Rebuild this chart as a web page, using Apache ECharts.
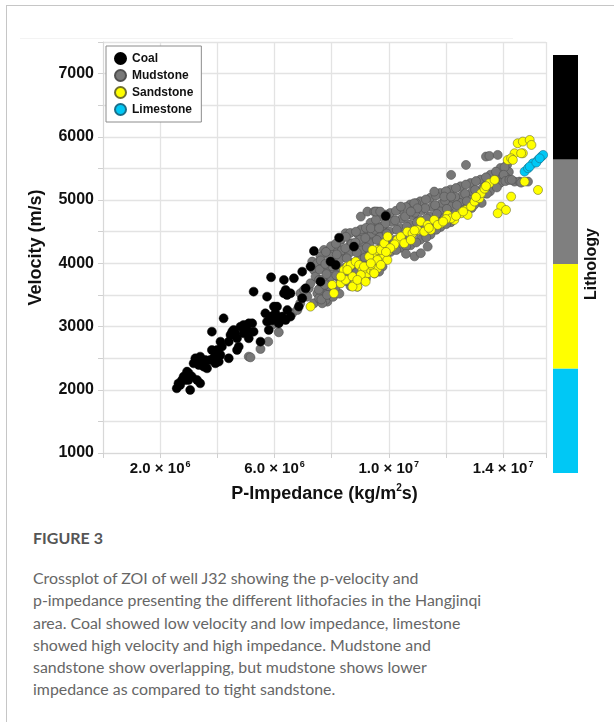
<!DOCTYPE html>
<html>
<head>
<meta charset="utf-8">
<script src="https://cdn.jsdelivr.net/npm/echarts@6/dist/echarts.min.js"></script>
<style>
html,body{margin:0;padding:0;background:#fff;}
#wrap{position:relative;width:614px;height:722px;overflow:hidden;background:#fff;}
#frame{position:absolute;left:6px;top:5px;right:0;bottom:0;border-left:1px solid #c6c6c6;border-top:1px solid #c6c6c6;}
#faint{position:absolute;left:20px;top:38px;width:493px;height:0;border-top:1px solid #f3f3f3;}
#chart{position:absolute;left:0;top:0;width:614px;height:512px;}
#figt{position:absolute;left:33px;top:527px;font-family:Lato,'Open Sans',sans-serif;font-weight:700;font-size:16px;line-height:22px;color:#555;white-space:nowrap;}
#cap{position:absolute;left:33px;top:567px;font-family:Lato,'Open Sans',sans-serif;font-size:15.9px;line-height:22.3px;color:#666;white-space:nowrap;}
</style>
</head>
<body>
<div id="wrap">
<div id="frame"></div>
<div id="faint"></div>
<div id="chart"></div>
<div id="figt">FIGURE 3</div>
<div id="cap">Crossplot of ZOI of well J32 showing the p-velocity and<br>p-impedance presenting the different lithofacies in the Hangjinqi<br>area. Coal showed low velocity and low impedance, limestone<br>showed high velocity and high impedance. Mudstone and<br>sandstone show overlapping, but mudstone shows lower<br>impedance as compared to tight sandstone.</div>
</div>
<script>
// Impedance in units of 10^6 kg/m2s, velocity in m/s
var seriesNames = ['Coal', 'Mudstone', 'Sandstone', 'Limestone'];
var xTickValues = [2, 6, 10, 14];
var xTickBase = ['2.0 × 10', '6.0 × 10', '1.0 × 10', '1.4 × 10'];
var xTickExp = ['6', '6', '7', '7'];
var yTickLabels = [1000, 2000, 3000, 4000, 5000, 6000, 7000];
var colorbarLabels = ['Limestone', 'Sandstone', 'Mudstone', 'Coal'];

var coal = [
[2.58,2023],[2.70,2076],[2.99,2155],[3.05,1997],[2.94,2287],[3.11,2208],[3.29,2155],[3.40,2102],
[3.17,2418],[3.29,2471],[3.40,2524],[3.52,2366],[3.64,2339],[3.75,2471],[3.87,2498],[3.93,2418],
[4.05,2445],[4.11,2550],[3.81,2629],[4.11,2761],[3.81,2919],[4.22,3130],[4.40,2761],[4.46,2867],
[4.57,2946],[4.63,2893],[4.69,2814],[4.81,2998],[4.92,3025],[5.10,3051],[5.27,2919],[5.10,2814],
[4.69,2629],[4.75,2682],[4.40,2498],[5.27,3552],[5.74,3473],[5.68,3209],[5.74,3078],[5.80,2946],
[5.86,3157],[5.98,3315],[6.09,3157],[6.27,3157],[6.39,3579],[6.44,3499],[6.56,3526],[5.51,2761],
[7.38,4195],[8.26,4406],[8.78,4264],[7.96,4027],[8.14,3974],[7.26,3948],[6.97,3868],[6.68,3763],
[6.33,3737],[5.88,3779],[6.33,3526],[7.09,3605],[6.97,3447],[6.85,3315],[6.09,3315],[6.21,3130],
[6.39,3104],[6.56,3157],[7.61,3710],[9.89,4749],[2.82,2208],[2.88,2155],[3.23,2497],[3.35,2392],
[3.46,2445],[3.58,2471],[3.93,2550],[3.99,2629],[4.16,2682],[4.52,2919],[4.92,2893],[5.04,2946],
[5.22,3051],[5.92,3100],[6.03,3210],[6.45,3260],[6.15,3050],[2.64,2100],[2.76,2150],[3.00,2260]
];

var mudstone = [
[5.10,2524],[5.16,2513],[5.51,2645],[5.78,2761],[6.15,2909],[5.95,3035],[6.62,3209],[6.80,3262],
[6.90,3368],[6.97,3473],[7.09,3526],[7.20,3605],[7.26,3684],[6.91,3526],[7.15,3473],[7.38,3368],
[7.61,3420],[7.85,3394],[7.03,3578],[7.50,3526],[7.32,4027],[7.38,3895],[7.44,3790],[7.56,3737],
[7.61,3605],[7.73,3526],[7.79,3420],[7.67,3368],[7.56,3447],[7.85,3684],[7.96,3790],[8.08,3895],
[8.20,3948],[8.32,4106],[8.43,4211],[8.49,4475],[8.90,4475],[9.13,4528],[9.02,4739],[9.25,4818],
[9.49,4818],[9.60,4818],[9.49,4607],[9.19,4396],[9.08,4317],[9.37,4422],[9.60,4475],[9.84,4422],
[9.95,4264],[9.89,4106],[9.78,3948],[9.66,3868],[8.67,4317],[8.55,4158],[8.67,4000],[8.78,3921],
[8.43,3842],[8.20,3790],[7.96,3631],[7.85,3526],[8.08,4106],[7.96,4158],[7.73,4211],[7.61,4106],
[7.50,4000],[7.79,3895],[8.20,4237],[8.32,4369],[9.08,4132],[8.90,4211],[9.13,4027],[9.25,4106],
[9.37,4185],[9.60,4158],[9.72,4211],[9.95,4343],[9.78,4554],
[7.62,4045],[7.58,3902],[7.66,3740],[7.55,3585],[7.64,3428],
[7.98,4270],[7.93,4110],[8.02,3952],[7.97,3785],[7.91,3636],[8.05,3470],
[8.30,4375],[8.36,4205],[8.28,4060],[8.34,3890],[8.31,3690],[8.27,3520],
[8.65,4480],[8.71,4310],[8.62,4165],[8.69,3995],[8.74,3785],[8.66,3640],
[9.03,4535],[8.98,4372],[9.06,4205],[9.00,4060],[9.05,3890],
[9.36,4640],[9.41,4470],[9.33,4320],[9.39,4150],[9.35,4005],
[9.70,4745],[9.76,4585],[9.68,4415],[9.74,4270],[9.71,4100],
[10.05,4795],[10.11,4655],[10.03,4505],[10.09,4340],[10.06,4180],
[10.40,4850],[10.46,4705],[10.38,4560],[10.44,4390],[10.41,4245],
[10.75,4930],[10.81,4760],[10.73,4612],[10.79,4445],[10.76,4285],
[11.10,4980],[11.16,4838],[11.08,4690],[11.14,4522],[11.11,4375],
[11.45,5035],[11.51,4892],[11.43,4745],[11.49,4575],[11.46,4455],
[11.80,5112],[11.86,4945],[11.78,4822],[11.84,4700],[11.81,4575],
[12.16,5165],[12.22,5024],[12.14,4902],[12.20,4760],[12.17,4650],
[12.51,5218],[12.57,5076],[12.49,4955],[12.55,4810],
[12.86,5270],[12.92,5130],[12.84,5006],[12.90,4875],
[13.21,5324],[13.27,5182],[13.19,5060],[13.25,4955],
[13.56,5402],[13.62,5262],[13.54,5138],
[13.91,5508],[13.97,5366],[13.89,5270],
[14.14,5560],[14.20,5446],[14.12,5350],
[7.80,4180],[7.78,3990],[7.82,3830],[7.76,3660],[7.84,3500],
[8.15,4310],[8.18,4140],[8.12,3980],[8.16,3810],[8.13,3610],
[8.50,4420],[8.48,4240],[8.53,4080],[8.46,3930],[8.52,3720],
[8.85,4500],[8.83,4330],[8.88,4170],[8.81,4010],[8.86,3850],
[9.20,4560],[9.18,4400],[9.23,4250],[9.16,4090],[9.21,3950],
[9.55,4690],[9.52,4530],[9.58,4370],[9.50,4200],[9.57,4060],
[9.90,4770],[9.88,4630],[9.93,4470],[9.86,4310],[9.91,4150],
[10.25,4830],[10.22,4680],[10.28,4530],[10.20,4370],[10.26,4210],
[10.60,4890],[10.57,4740],[10.63,4580],[10.55,4420],[10.61,4270],
[10.95,4950],[10.92,4800],[10.98,4650],[10.90,4490],[10.96,4330],
[11.30,5010],[11.27,4870],[11.33,4710],[11.25,4550],[11.31,4410],
[11.65,5070],[11.62,4920],[11.68,4780],[11.60,4620],[11.66,4530],
[12.00,5140],[11.97,4990],[12.03,4860],[11.95,4720],[12.01,4620],
[12.35,5190],[12.32,5050],[12.38,4920],[12.30,4780],
[12.70,5245],[12.67,5100],[12.73,4980],[12.65,4850],
[13.05,5300],[13.02,5160],[13.08,5030],[13.00,4930],
[13.40,5360],[13.37,5220],[13.43,5100],
[13.75,5450],[13.72,5320],[13.78,5200],
[14.05,5520],[14.02,5400],[14.08,5300],
[10.90,4110],[11.12,4160],[11.36,4264],[10.60,4150],[8.90,3630],[9.20,3760],[9.50,3840],
[9.37,4554],[9.66,4554],[9.54,4818],[9.70,4818],[10.42,4897],[10.89,4950],[11.00,4870],[10.77,4818],
[11.59,5134],[11.94,5055],[12.18,5055],[12.18,5398],[12.70,5556],[13.40,5688],[13.52,5698],[13.81,5714],
[14.22,5319],[14.40,5292],[14.57,5292],[14.63,5276],[14.87,5292],[14.30,5320]
];

var sandstone = [
[7.26,3315],[8.02,3658],[8.08,3526],[8.32,3684],[8.49,3737],[8.43,3895],[8.55,3948],[8.67,3974],
[8.84,4027],[8.96,3974],[8.73,3790],[8.78,3658],[8.90,3631],[9.08,3790],[9.13,3737],[9.25,3842],
[9.37,3895],[9.49,3868],[9.60,3921],[9.43,4053],[9.49,4158],[9.60,4211],[9.72,4080],[9.84,4132],
[9.95,4053],[9.78,4237],[9.37,3974],[9.08,3895],[8.55,3895],[8.73,3631],[9.02,3816],[9.13,3948],
[9.31,4106],[9.43,4211],[9.60,4053],[9.72,4211],[9.84,4317],[9.96,4422],[10.13,4264],[10.30,4369],
[10.42,4422],[10.65,4501],[10.83,4475],[11.00,4528],[11.12,4660],[11.36,4607],[11.59,4686],[11.82,4633],
[12.06,4765],[12.29,4686],[12.53,4791],[12.70,4844],[12.88,4897],[13.00,4976],[13.17,5029],[13.23,5108],
[13.52,5266],[13.70,5319],[8.32,3790],[8.90,3737],[9.19,3710],[9.49,3842],[9.37,4000],[9.96,4185],
[9.72,3974],[10.54,4317],[10.77,4369],[11.24,4501],[11.47,4528],[11.71,4607],[12.18,4712],[12.76,4765],
[13.35,5180],[13.05,5050],[12.35,4750],[12.00,4700],[11.90,4660],[10.20,4300],[10.05,4240],[9.90,4180],
[10.90,4520],[11.40,4560],[12.60,4820],[13.40,5220],
[14.16,5635],[14.40,5740],[14.69,5740],[14.28,5661],[14.51,5899],[14.69,5925],[14.93,5951],[14.99,5872],
[14.63,5740],[14.34,5635],[14.75,5292],[15.22,5160],[14.28,5055],[13.93,4897],[14.10,4844],[13.81,4791]
];

var limestone = [
[14.75,5450],[14.87,5503],[15.04,5582],[15.22,5635],[15.34,5688],[15.40,5714],[14.93,5530],[15.16,5593],[15.28,5661]
];

var chart = echarts.init(document.getElementById('chart'));
var FONT = "'Liberation Sans', Arial, sans-serif";

function xLabel(v) {
  for (var i = 0; i < xTickValues.length; i++) {
    if (Math.abs(v - xTickValues[i]) < 1e-6) return '{a|' + xTickBase[i] + '}{s|' + xTickExp[i] + '}';
  }
  return '';
}

var cbColors = {Limestone: '#00c8f5', Sandstone: '#ffff00', Mudstone: '#7f7f7f', Coal: '#000000'};

var series = [
  {name: 'Mudstone', type: 'scatter', data: mudstone, symbolSize: 9,
   itemStyle: {color: '#787878', borderColor: '#505050', borderWidth: 0.6, opacity: 1}},
  {name: 'Sandstone', type: 'scatter', data: sandstone, symbolSize: 9,
   itemStyle: {color: '#ffff00', borderColor: '#6f6f30', borderWidth: 0.6, opacity: 1}},
  {name: 'Coal', type: 'scatter', data: coal, symbolSize: 9,
   itemStyle: {color: '#000000', borderColor: '#000000', borderWidth: 0.5, opacity: 1}},
  {name: 'Limestone', type: 'scatter', data: limestone, symbolSize: 9,
   itemStyle: {color: '#00c8f5', borderColor: '#1a6f8a', borderWidth: 0.6, opacity: 1}}
];
colorbarLabels.forEach(function (n) {
  series.push({name: 'cb_' + n, type: 'bar', xAxisIndex: 1, yAxisIndex: 1, stack: 'cb',
    data: [1], barWidth: '100%', silent: true, itemStyle: {color: cbColors[n]}});
});

chart.setOption({
  animation: false,
  backgroundColor: 'transparent',
  textStyle: {fontFamily: FONT},
  legend: {
    data: seriesNames.map(function (n) { return {name: n, icon: 'circle'}; }),
    orient: 'vertical', left: 106, top: 46,
    backgroundColor: '#fff', borderColor: '#8c8c8c', borderWidth: 1,
    padding: [6, 8, 6, 8], itemGap: 4, itemWidth: 11, itemHeight: 11,
    textStyle: {fontFamily: FONT, fontWeight: 'bold', fontSize: 12, color: '#111', padding: [0, 0, 0, 1]},
    selectedMode: false
  },
  grid: [
    {left: 103, right: 68, top: 42, bottom: 59},
    {left: 553, top: 55, width: 25, height: 418}
  ],
  xAxis: [
    {type: 'value', min: 0, max: 15.5, interval: 2,
     name: '{n|P-Impedance (kg/m}{s|2}{n|s)}', nameLocation: 'middle', nameGap: 30,
     nameTextStyle: {rich: {
       n: {fontFamily: FONT, fontWeight: 'bold', fontSize: 18, color: '#111', lineHeight: 22},
       s: {fontFamily: FONT, fontWeight: 'bold', fontSize: 10, color: '#111', verticalAlign: 'top', lineHeight: 12}
     }},
     axisLine: {show: true, lineStyle: {color: '#d8d8d8'}},
     axisTick: {show: true, length: 5, lineStyle: {color: '#d0d0d0'}},
     splitLine: {show: true, lineStyle: {color: '#e3e3e3', width: 1.3}},
     axisLabel: {margin: 7, formatter: xLabel, rich: {
       a: {fontFamily: FONT, fontWeight: 'bold', fontSize: 15, color: '#111', lineHeight: 18},
       s: {fontFamily: FONT, fontWeight: 'bold', fontSize: 9, color: '#111', verticalAlign: 'top', lineHeight: 10, padding: [0, 0, 0, 1]}
     }}},
    {type: 'category', gridIndex: 1, data: ['cb'], show: false}
  ],
  yAxis: [
    {type: 'value', min: 1000, max: 7500, interval: 500,
     name: 'Velocity (m/s)', nameLocation: 'middle', nameGap: 58, nameRotate: 90,
     nameTextStyle: {fontFamily: FONT, fontWeight: 'bold', fontSize: 18, color: '#111'},
     axisLine: {show: true, lineStyle: {color: '#d8d8d8'}},
     axisTick: {show: true, length: 5, lineStyle: {color: '#d0d0d0'}},
     splitLine: {show: true, lineStyle: {color: '#e3e3e3', width: 1.3}},
     axisLabel: {margin: 9, fontFamily: FONT, fontWeight: 'bold', fontSize: 16, color: '#111',
       formatter: function (v) { return yTickLabels.indexOf(v) >= 0 ? String(v) : ''; }}},
    {type: 'value', gridIndex: 1, min: 0, max: 4, position: 'right',
     name: 'Lithology', nameLocation: 'middle', nameRotate: 90, nameGap: 6,
     nameTextStyle: {fontFamily: FONT, fontWeight: 'bold', fontSize: 16, color: '#111'},
     axisLine: {show: false}, axisTick: {show: false}, axisLabel: {show: false}, splitLine: {show: false}}
  ],
  series: series
});
</script>
</body>
</html>
